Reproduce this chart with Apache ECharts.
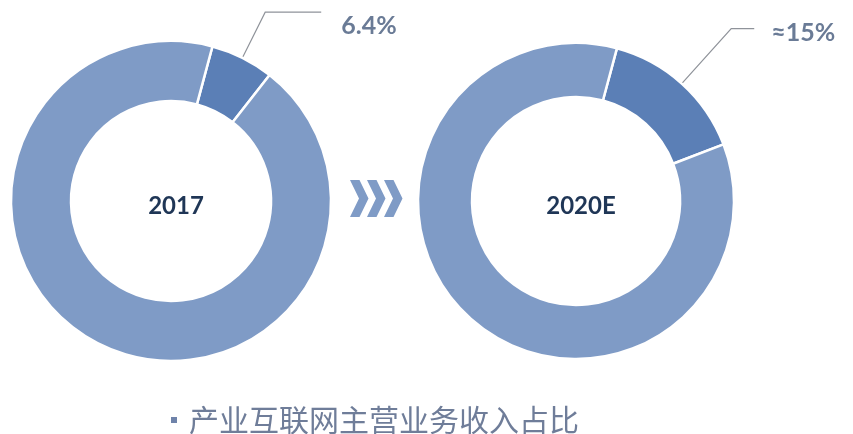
<!DOCTYPE html>
<html>
<head>
<meta charset="utf-8">
<script src="https://cdn.jsdelivr.net/npm/echarts@6/dist/echarts.min.js"></script>
<style>
html,body{margin:0;padding:0;background:#fff;}
#chart{width:853px;height:434px;}
</style>
</head>
<body>
<div id="chart"></div>
<script>
// ---- data ----
const years = ['2017', '2020E'];
const shares = [6.4, 15];
const shareLabels = ['6.4%', '≈15%'];
const legendName = '产业互联网主营业务收入占比';
const otherName = '其他';

// ---- style ----
const darkColor = '#5b7fb6';
const lightColor = '#7f9bc6';
const centers = [[171, 201], [576, 201]];
const radii = [[100, 160], [104, 158]];
const lineLen = [[51, 56], [74, 23]];
const labelDist = [20, 17];
const labelGap = [27, 8];

const chart = echarts.init(document.getElementById('chart'), null, {renderer: 'canvas'});

const series = years.map((y, i) => ({
  type: 'pie',
  center: centers[i],
  radius: radii[i],
  startAngle: 75,
  clockwise: true,
  avoidLabelOverlap: false,
  silent: true,
  emphasis: {disabled: true},
  itemStyle: {borderColor: '#ffffff', borderWidth: 2.5},
  label: {
    show: true,
    position: 'outside',
    formatter: () => '{g|}\n{v|' + shareLabels[i] + '}',
    distanceToLabelLine: labelDist[i],
    rich: {
      g: {height: labelGap[i], fontSize: 1, lineHeight: labelGap[i]},
      v: {fontFamily: 'Lato', fontWeight: 'bold', fontSize: 25, lineHeight: 30, color: '#6a7b96'}
    }
  },
  labelLine: {
    show: true,
    length: lineLen[i][0],
    length2: lineLen[i][1],
    lineStyle: {color: '#8f939a', width: 1.2}
  },
  data: [
    {value: shares[i], name: legendName, itemStyle: {color: darkColor}},
    {value: 100 - shares[i], name: otherName, itemStyle: {color: lightColor},
     label: {show: false}, labelLine: {show: false}}
  ]
}));

const chevron = (x) => ({
  type: 'polygon',
  shape: {points: [[x, 180], [x + 9.5, 180], [x + 18.5, 198.5], [x + 9.5, 217], [x, 217], [x + 9, 198.5]]},
  style: {fill: lightColor},
  silent: true
});

chart.setOption({
  animation: false,
  title: years.map((y, i) => ({
    text: y,
    left: centers[i][0],
    top: centers[i][1],
    textAlign: 'center',
    textVerticalAlign: 'middle',
    textStyle: {fontFamily: 'Lato', fontWeight: 'bold', fontSize: 24, color: '#1f3656'}
  })),
  legend: {
    data: [{name: legendName, itemStyle: {color: '#6f83aa'}}],
    left: 164,
    top: 400,
    icon: 'rect',
    itemWidth: 8,
    itemHeight: 8,
    selectedMode: false,
    textStyle: {fontFamily: 'Noto Sans CJK SC', fontSize: 30, color: '#6f7d99', padding: [0, 0, 0, 6]}
  },
  graphic: [chevron(350), chevron(367), chevron(384)],
  series: series
});
</script>
</body>
</html>
